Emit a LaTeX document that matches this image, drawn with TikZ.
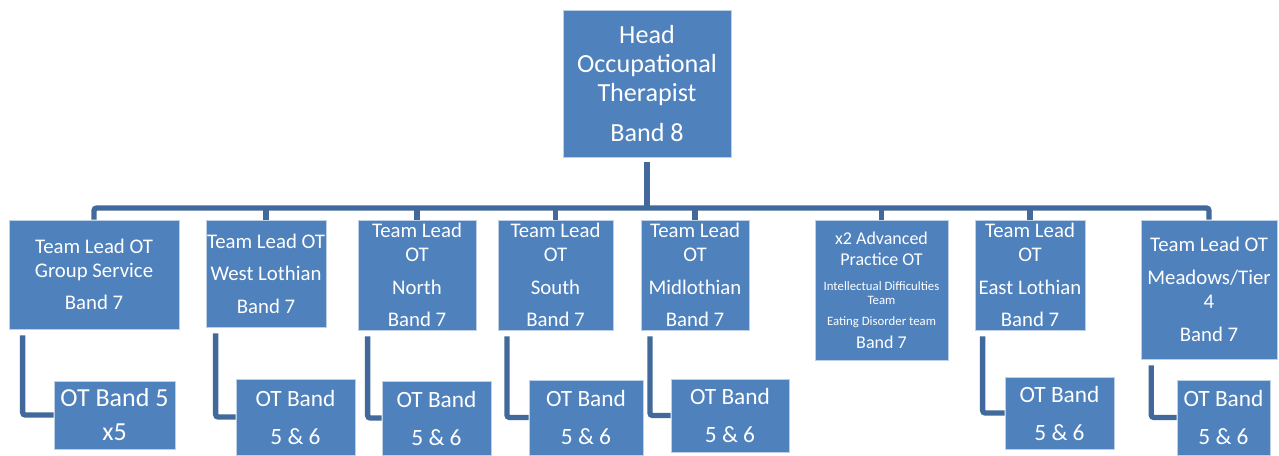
\documentclass[tikz,border=0pt]{standalone}
\usepackage{fontspec}
\setmainfont{Carlito}
\definecolor{boxblue}{RGB}{79,129,189}
\definecolor{boxedge}{RGB}{190,208,230}
\definecolor{linkblue}{RGB}{65,105,155}
\newcommand{\headfont}{\fontsize{19.6}{21.75}\selectfont\lineskiplimit=-20pt}
\newcommand{\leadfont}{\fontsize{15.6}{18}\selectfont\lineskiplimit=-20pt}
\newcommand{\bigstafffont}{\fontsize{19.5}{25.5}\selectfont\lineskiplimit=-20pt}
\newcommand{\stafffont}{\fontsize{17.5}{28.5}\selectfont\lineskiplimit=-20pt}
\newcommand{\advfont}{\fontsize{13.5}{10.5}\selectfont\lineskiplimit=-20pt}
\newcommand{\smallfont}{\fontsize{9.6}{10.5}\selectfont}
\tikzset{
  box/.style={fill=boxblue, draw=boxedge, line width=0.6pt, text=white, inner sep=0pt, align=center},
  headbox/.style={box, font=\headfont},
  leadbox/.style={box, font=\leadfont},
  advbox/.style={box, font=\advfont},
  bigstaffbox/.style={box, font=\bigstafffont},
  staffbox/.style={box, font=\stafffont},
  conn/.style={draw=linkblue, line width=4pt, rounded corners=2pt},
}
\begin{document}
\begin{tikzpicture}[x=0.75pt,y=-0.75pt]
\useasboundingbox[fill=white] (0,0) rectangle (1279,455);
% top
\node[headbox, minimum width=126pt, minimum height=110.25pt] (head) at (647,83.5)
  {Head\\Occupational\\Therapist\\[8.25pt]Band 8};
% second level
\node[leadbox, minimum width=127.5pt, minimum height=81.75pt] (g1) at (94,274.5)
  {Team Lead OT\\Group Service\\[6.4pt]Band 7};
\node[leadbox, minimum width=90pt, minimum height=80.25pt] (g2) at (266,273.5)
  {Team Lead OT\\[6.4pt]West Lothian\\[6.4pt]Band 7};
\node[leadbox, minimum width=88.5pt, minimum height=82.5pt] (g3) at (417,275)
  {Team Lead\\OT\\[6.4pt]North\\[6.4pt]Band 7};
\node[leadbox, minimum width=86.25pt, minimum height=82.5pt] (g4) at (555.5,275)
  {Team Lead\\OT\\[6.4pt]South\\[6.4pt]Band 7};
\node[leadbox, minimum width=81pt, minimum height=82.5pt] (g5) at (695,275)
  {Team Lead\\OT\\[6.4pt]Midlothian\\[6.4pt]Band 7};
\node[advbox, minimum width=99.75pt, minimum height=105pt] (g6) at (881.5,290)
  {x2 Advanced\\[5.25pt]Practice OT\\[8.25pt]{\smallfont Intellectual Difficulties}\\{\smallfont Team}\\[5.25pt]{\smallfont Eating Disorder team}\\[6.75pt]Band 7};
\node[leadbox, minimum width=82.5pt, minimum height=82.5pt] (g7) at (1030,275)
  {Team Lead\\OT\\[6.4pt]East Lothian\\[6.4pt]Band 7};
\node[leadbox, minimum width=102pt, minimum height=104.25pt] (g8) at (1209,289.5)
  {Team Lead OT\\[6.4pt]Meadows/Tier\\4\\[7pt]Band 7};
% third level
\node[bigstaffbox, minimum width=90.75pt, minimum height=51pt] (c1) at (114.5,415)
  {OT Band 5\\x5};
\node[staffbox, minimum width=89.25pt, minimum height=57pt] (c2) at (295.5,417)
  {OT Band\\5 \& 6};
\node[staffbox, minimum width=81.75pt, minimum height=55.5pt] (c3) at (436.5,418)
  {OT Band\\5 \& 6};
\node[staffbox, minimum width=85.5pt, minimum height=56.25pt] (c4) at (586,417.5)
  {OT Band\\5 \& 6};
\node[staffbox, minimum width=88.5pt, minimum height=54.75pt] (c5) at (730,415.5)
  {OT Band\\5 \& 6};
\node[staffbox, minimum width=81.75pt, minimum height=54pt] (c7) at (1059.5,413)
  {OT Band\\5 \& 6};
\node[staffbox, minimum width=69.75pt, minimum height=56.25pt] (c8) at (1223.5,417.5)
  {OT Band\\5 \& 6};
% connectors
\coordinate (bar) at (647,208);
\draw[conn] (g1.north) |- (bar) -| (g8.north);
\draw[conn] ([yshift=-3.75pt]head.south) -- (bar);
\foreach \n in {g2,g3,g4,g5,g6,g7}
  \draw[conn] (\n.north) -- (\n.north |- bar);
\draw[conn] ([xshift=10.5pt,yshift=-4.5pt]g1.south west) |- (c1.west);
\draw[conn] ([xshift=7.5pt,yshift=-4.5pt]g2.south west) |- (c2.west);
\draw[conn] ([xshift=7.5pt,yshift=-4.5pt]g3.south west) |- (c3.west);
\draw[conn] ([xshift=7pt,yshift=-4.5pt]g4.south west) |- (c4.west);
\draw[conn] ([xshift=7pt,yshift=-4.5pt]g5.south west) |- (c5.west);
\draw[conn] ([xshift=6pt,yshift=-4.5pt]g7.south west) |- (c7.west);
\draw[conn] ([xshift=8pt,yshift=-4.5pt]g8.south west) |- (c8.west);
\end{tikzpicture}
\end{document}
